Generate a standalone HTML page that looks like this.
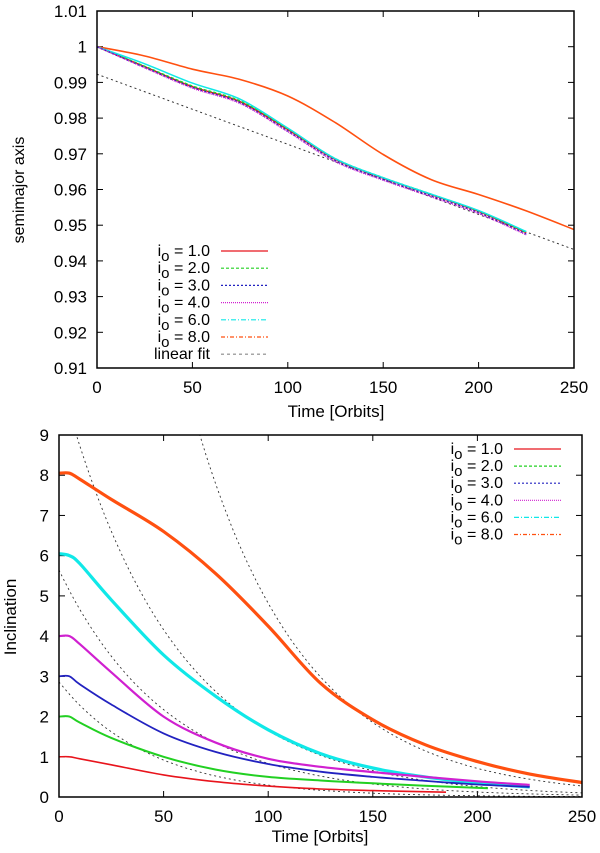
<!DOCTYPE html>
<html><head><meta charset="utf-8">
<style>
body{margin:0;background:#fff;}
svg{display:block;font-family:"Liberation Sans",sans-serif;}
</style></head>
<body>
<svg id="svg" width="600" height="853" viewBox="0 0 600 853" xmlns="http://www.w3.org/2000/svg">
  <g id="top"></g>
  <g id="bot"></g>
</svg>
<script>
// ---- top chart data ----
const topT = [0,25,50,75,100,125,150,175,200,225];
const topI1 = [1.0,0.9944,0.9888,0.9846,0.9768,0.9684,0.9632,0.9586,0.9539,0.9479];
const topI2 = [1.0,0.9945,0.989,0.9848,0.977,0.9686,0.9633,0.9587,0.954,0.948];
const topI3 = [1.0,0.9942,0.9886,0.9843,0.9764,0.968,0.9628,0.9582,0.9535,0.9475];
const topI4 = [1.0,0.9941,0.9884,0.9841,0.9762,0.9678,0.9626,0.958,0.9533,0.9473];
const topI6 = [1.0,0.9952,0.9898,0.9853,0.9772,0.9686,0.9633,0.9587,0.9541,0.9482];
const topT8 = [0,25,50,75,100,125,150,175,200,225,250];
const topI8 = [1.0,0.9974,0.9937,0.9908,0.9862,0.9787,0.9698,0.9628,0.9586,0.954,0.9488];
const fitLinT = [0,250];
const fitLinA = [0.9923,0.9432];
const topYTicks = [0.91,0.92,0.93,0.94,0.95,0.96,0.97,0.98,0.99,1,1.01];
const topYLabels = ["0.91","0.92","0.93","0.94","0.95","0.96","0.97","0.98","0.99","1","1.01"];
const xTicks = [0,50,100,150,200,250];

// ---- bottom chart data ----
const redT = [0,5,10,25,50,75,100,125,150,185];
const redV = [1,1,0.95,0.8,0.55,0.38,0.27,0.2,0.16,0.12];
const greenT = [0,5,10,25,50,75,100,125,150,175,205];
const greenV = [2.0,2.0,1.85,1.47,1.0,0.68,0.5,0.41,0.34,0.28,0.22];
const blueT = [0,5,10,25,50,75,100,125,150,175,200,225];
const blueV = [3.0,3.0,2.8,2.3,1.58,1.12,0.82,0.63,0.5,0.4,0.31,0.25];
const magT = [0,5,10,25,50,75,100,125,150,175,200,225];
const magV = [4.0,4.0,3.8,3.1,2.0,1.35,0.95,0.75,0.62,0.5,0.39,0.3];
const cyanT = [0,5,10,25,50,75,100,125,150,175,200,225];
const cyanV = [6.05,6.0,5.8,4.9,3.53,2.5,1.67,1.08,0.72,0.5,0.35,0.25];
const orgT = [0,5,10,25,50,75,100,125,150,175,200,225,250];
const orgV = [8.05,8.05,7.9,7.4,6.6,5.55,4.25,2.83,1.92,1.3,0.88,0.57,0.36];
const fitAmp = [2.86,5.64,10.5,32.6];
const fitTau = [44,52.4,54,52.3];
const botYTicks = [0,1,2,3,4,5,6,7,8,9];

const NS="http://www.w3.org/2000/svg";
function mk(parent,tag,attrs,text){const e=document.createElementNS(NS,tag);for(const k in attrs)e.setAttribute(k,attrs[k]);if(text!==undefined)e.textContent=text;parent.appendChild(e);return e;}
function smooth(pts){
  let d="M"+pts[0][0].toFixed(1)+","+pts[0][1].toFixed(1);
  for(let i=0;i<pts.length-1;i++){
    const p0=pts[Math.max(0,i-1)],p1=pts[i],p2=pts[i+1],p3=pts[Math.min(pts.length-1,i+2)];
    const c1=[p1[0]+(p2[0]-p0[0])/6,p1[1]+(p2[1]-p0[1])/6];
    const c2=[p2[0]-(p3[0]-p1[0])/6,p2[1]-(p3[1]-p1[1])/6];
    d+=" C"+c1[0].toFixed(1)+","+c1[1].toFixed(1)+" "+c2[0].toFixed(1)+","+c2[1].toFixed(1)+" "+p2[0].toFixed(1)+","+p2[1].toFixed(1);
  }
  return d;
}
const colors={red:"#e8141c",green:"#22d022",blue:"#2222c0",mag:"#d020d0",cyan:"#10e8e8",org:"#ff5010",fit:"#333"};
const FS='17';

// ===== TOP =====
const T=document.getElementById('top');
const tx0=97,tx1=574,ty0=11,ty1=368;
const txs=t=>tx0+(t/250)*(tx1-tx0);
const tys=v=>ty1-(v-0.91)/0.1*(ty1-ty0);
topYTicks.forEach((v,i)=>{
  const y=tys(v);
  let l=mk(T,'line',{x1:tx0,y1:y,x2:tx0+6,y2:y,stroke:'#000'});
  
  l=mk(T,'line',{x1:tx1,y1:y,x2:tx1-6,y2:y,stroke:'#000'});
  
  const tt=mk(T,'text',{x:tx0-10,y:y+6,'text-anchor':'end','font-size':FS},topYLabels[i]);
  
});
xTicks.forEach(v=>{
  const x=txs(v);
  let l=mk(T,'line',{x1:x,y1:ty1,x2:x,y2:ty1-6,stroke:'#000'});
  
  l=mk(T,'line',{x1:x,y1:ty0,x2:x,y2:ty0+6,stroke:'#000'});
  
  const tt=mk(T,'text',{x:x,y:ty1+25,'text-anchor':'middle','font-size':FS},String(v));
  
});
function topSeries(ts,vs,col,dash,w,name){
  const p=mk(T,'path',{d:smooth(ts.map((t,i)=>[txs(t),tys(vs[i])])),fill:'none',stroke:col,'stroke-width':w,'stroke-dasharray':dash});
  
}
topSeries(fitLinT,fitLinA,colors.fit,'2,3',1,'linear-fit-line');
topSeries(topT8,topI8,colors.org,'none',1.6,'i8-line');
topSeries(topT,topI1,colors.red,'none',1.5,'i1-line');
topSeries(topT,topI2,colors.green,'3,2',1.5,'i2-line');
topSeries(topT,topI6,colors.cyan,'none',1.5,'i6-line');
topSeries(topT,topI3,colors.blue,'2,2',1.5,'i3-line');
topSeries(topT,topI4,colors.mag,'1,1',1.5,'i4-line');
let fr=mk(T,'rect',{x:tx0,y:ty0,width:tx1-tx0,height:ty1-ty0,fill:'none',stroke:'#000','stroke-width':1.5});

let at=mk(T,'text',{x:0,y:0,'text-anchor':'middle','font-size':'16',transform:'translate(24,190) rotate(-90)'},'semimajor axis');

at=mk(T,'text',{x:336,y:417,'text-anchor':'middle','font-size':FS},'Time [Orbits]');


function legend(G,x,y0,dy,items,name){
  items.forEach((it,i)=>{
    const y=y0+i*dy;
    const g=mk(G,'g',{});
    
    const t=mk(g,'text',{x:x,y:y+5,'text-anchor':'end','font-size':'16'});
    if(it.lbl){t.textContent=it.lbl;}
    else{t.textContent='i';const s=mk(t,'tspan',{dy:'5','font-size':'15'},'o');mk(t,'tspan',{dy:'-5'},' = '+it.v);}
    mk(g,'line',{x1:x+11,y1:y,x2:x+58,y2:y,stroke:it.c,'stroke-width':1.2,'stroke-dasharray':it.d});
  });
}
legend(T,210,251,17.2,[
 {v:'1.0',c:colors.red,d:'none'},{v:'2.0',c:colors.green,d:'3,2'},{v:'3.0',c:colors.blue,d:'2,2'},
 {v:'4.0',c:colors.mag,d:'1,1'},{v:'6.0',c:colors.cyan,d:'5,2,1,2'},{v:'8.0',c:colors.org,d:'4,2,1,2'},
 {lbl:'linear fit',c:'#888',d:'3,3'}],'legend-entry');

// ===== BOTTOM =====
const B=document.getElementById('bot');
const bx0=59,bx1=582,by0=435,by1=797;
const bxs=t=>bx0+(t/250)*(bx1-bx0);
const bys=v=>by1-(v/9)*(by1-by0);
const clip=mk(B,'clipPath',{id:'bclip'});
mk(clip,'rect',{x:bx0,y:by0,width:bx1-bx0,height:by1-by0});
botYTicks.forEach(v=>{
  const y=bys(v);
  let l=mk(B,'line',{x1:bx0,y1:y,x2:bx0+6,y2:y,stroke:'#000'});
  
  l=mk(B,'line',{x1:bx1,y1:y,x2:bx1-6,y2:y,stroke:'#000'});
  
  const tt=mk(B,'text',{x:bx0-10,y:y+6,'text-anchor':'end','font-size':FS},String(v));
  
});
xTicks.forEach(v=>{
  const x=bxs(v);
  let l=mk(B,'line',{x1:x,y1:by1,x2:x,y2:by1-6,stroke:'#000'});
  
  l=mk(B,'line',{x1:x,y1:by0,x2:x,y2:by0+6,stroke:'#000'});
  
  const tt=mk(B,'text',{x:x,y:by1+25,'text-anchor':'middle','font-size':FS},String(v));
  
});
const plotG=mk(B,'g',{'clip-path':'url(#bclip)'});


fitAmp.forEach((A,k)=>{
  const pts=[];for(let t=0;t<=250;t+=5)pts.push([bxs(t),bys(A*Math.exp(-t/fitTau[k]))]);
  const p=mk(plotG,'path',{d:smooth(pts),fill:'none',stroke:colors.fit,'stroke-width':0.9,'stroke-dasharray':'2,3'});
  
});
function botSeries(ts,vs,col,w,name){
  const p=mk(plotG,'path',{d:smooth(ts.map((t,i)=>[bxs(t),bys(vs[i])])),fill:'none',stroke:col,'stroke-width':w});
  
}
botSeries(orgT,orgV,colors.org,3.2,'i8-line');
botSeries(cyanT,cyanV,colors.cyan,3.2,'i6-line');
botSeries(magT,magV,colors.mag,2.2,'i4-line');
botSeries(blueT,blueV,colors.blue,1.8,'i3-line');
botSeries(greenT,greenV,colors.green,2,'i2-line');
botSeries(redT,redV,colors.red,1.6,'i1-line');
fr=mk(B,'rect',{x:bx0,y:by0,width:bx1-bx0,height:by1-by0,fill:'none',stroke:'#000','stroke-width':1.5});

at=mk(B,'text',{x:0,y:0,'text-anchor':'middle','font-size':FS,transform:'translate(16,617) rotate(-90)'},'Inclination');

at=mk(B,'text',{x:320,y:842,'text-anchor':'middle','font-size':FS},'Time [Orbits]');

legend(B,503,449,17.1,[
 {v:'1.0',c:colors.red,d:'none'},{v:'2.0',c:colors.green,d:'3,2'},{v:'3.0',c:colors.blue,d:'2,2'},
 {v:'4.0',c:colors.mag,d:'1,1'},{v:'6.0',c:colors.cyan,d:'5,2,1,2'},{v:'8.0',c:colors.org,d:'4,2,1,2'}],'legend-entry');
</script>
</body></html>
